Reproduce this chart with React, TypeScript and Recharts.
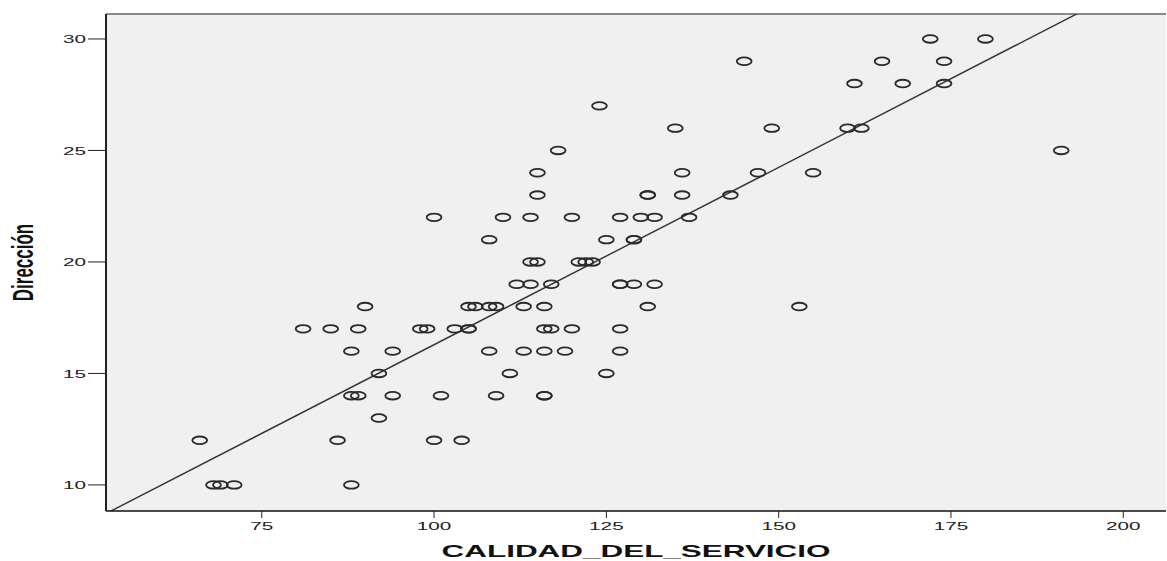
import { CartesianGrid, ReferenceLine, Scatter, ScatterChart, XAxis, YAxis } from "recharts";

// CALIDAD_DEL_SERVICIO per case, grouped by Dirección score (30 down to 10)
const calidad = [
  172, 180,
  145, 165, 174,
  161, 168, 174,
  124,
  135, 149, 160, 162,
  118, 191,
  115, 136, 147, 155,
  115, 131, 131, 136, 143,
  100, 110, 114, 120, 127, 130, 132, 137,
  108, 125, 129, 129,
  114, 115, 121, 122, 123,
  112, 114, 117, 127, 127, 129, 132,
  90, 105, 106, 108, 109, 113, 116, 131, 153,
  81, 85, 89, 98, 99, 103, 105, 105, 116, 117, 120, 127,
  88, 94, 108, 113, 116, 119, 127,
  92, 111, 125,
  88, 89, 94, 101, 109, 116, 116,
  92,
  66, 86, 100, 104,
  68, 69, 71, 88,
];

const direccion = [
  30, 30,
  29, 29, 29,
  28, 28, 28,
  27,
  26, 26, 26, 26,
  25, 25,
  24, 24, 24, 24,
  23, 23, 23, 23, 23,
  22, 22, 22, 22, 22, 22, 22, 22,
  21, 21, 21, 21,
  20, 20, 20, 20, 20,
  19, 19, 19, 19, 19, 19, 19,
  18, 18, 18, 18, 18, 18, 18, 18, 18,
  17, 17, 17, 17, 17, 17, 17, 17, 17, 17, 17, 17,
  16, 16, 16, 16, 16, 16, 16,
  15, 15, 15,
  14, 14, 14, 14, 14, 14, 14,
  13,
  12, 12, 12, 12,
  10, 10, 10, 10,
];

const xTicks = [75, 100, 125, 150, 175, 200];
const yTicks = [10, 15, 20, 25, 30];
const xDomain: [number, number] = [52.4, 206.2];
const yDomain: [number, number] = [8.83, 31.12];

const points = calidad.map((x, i) => ({ x, y: direccion[i] }));

// ordinary least squares fit of Dirección on CALIDAD_DEL_SERVICIO
function leastSquares(xs: number[], ys: number[]) {
  const n = xs.length;
  const mx = xs.reduce((s, v) => s + v, 0) / n;
  const my = ys.reduce((s, v) => s + v, 0) / n;
  let sxy = 0;
  let sxx = 0;
  xs.forEach((x, i) => {
    sxy += (x - mx) * (ys[i] - my);
    sxx += (x - mx) * (x - mx);
  });
  const slope = sxy / sxx;
  return { slope, intercept: my - slope * mx };
}

const fit = leastSquares(calidad, direccion);
const fitSegment = xDomain.map((x) => ({ x, y: fit.intercept + fit.slope * x }));

const FONT = "'Liberation Sans', Arial, sans-serif";
const STRETCH = 1.8;

function XTick({ x, y, payload }: any) {
  return (
    <g transform={`translate(${x},${y})`}>
      <text transform={`scale(${STRETCH},1)`} textAnchor="middle" dy="0.85em" fontSize={11.5} fontFamily={FONT} fill="#222">
        {payload.value}
      </text>
    </g>
  );
}

function YTick({ x, y, payload }: any) {
  return (
    <g transform={`translate(${x},${y})`}>
      <text transform={`scale(${STRETCH},1)`} textAnchor="end" dy="0.36em" fontSize={11.5} fontFamily={FONT} fill="#222">
        {payload.value}
      </text>
    </g>
  );
}

function XTitle({ viewBox }: any) {
  const cx = viewBox.x + viewBox.width / 2;
  return (
    <g transform={`translate(${cx},557)`}>
      <text transform="scale(1.85,1)" textAnchor="middle" fontSize={17} fontWeight="bold" fontFamily={FONT} fill="#111">
        CALIDAD_DEL_SERVICIO
      </text>
    </g>
  );
}

function YTitle({ viewBox }: any) {
  const cy = viewBox.y + viewBox.height / 2;
  return (
    <g transform={`translate(22,${cy}) scale(1.75,1) rotate(-90)`}>
      <text textAnchor="middle" dy="0.36em" fontSize={17} fontWeight="bold" fontFamily={FONT} fill="#111">
        Dirección
      </text>
    </g>
  );
}

function Ring(props: any) {
  return <ellipse cx={props.cx} cy={props.cy} rx={7.4} ry={3.8} fill="none" stroke="#2a2a2a" strokeWidth={1.8} />;
}

export default function App() {
  return (
    <div style={{ position: "absolute", left: 0, top: 0, width: 1167, height: 561, background: "#fff" }}>
      <ScatterChart width={1167} height={561} margin={{ top: 14, right: 1, bottom: 0, left: 0 }}>
        <CartesianGrid fill="#f0f0f0" horizontal={false} vertical={false} />
        <XAxis
          type="number"
          dataKey="x"
          domain={xDomain}
          ticks={xTicks}
          allowDataOverflow
          height={50}
          tickSize={7}
          tickMargin={2}
          axisLine={{ stroke: "#111", strokeWidth: 1.5 }}
          tickLine={{ stroke: "#222" }}
          tick={(p: any) => <XTick {...p} />}
          label={<XTitle />}
        />
        <YAxis
          type="number"
          dataKey="y"
          domain={yDomain}
          ticks={yTicks}
          allowDataOverflow
          width={106}
          tickSize={18}
          tickMargin={2}
          axisLine={{ stroke: "#222", strokeWidth: 2 }}
          tickLine={{ stroke: "#222" }}
          tick={(p: any) => <YTick {...p} />}
          label={<YTitle />}
        />
        <ReferenceLine y={yDomain[1]} stroke="#666" strokeWidth={1.5} />
        <ReferenceLine segment={fitSegment} ifOverflow="hidden" stroke="#333" strokeWidth={1.4} />
        <Scatter data={points} shape={<Ring />} isAnimationActive={false} />
      </ScatterChart>
    </div>
  );
}
